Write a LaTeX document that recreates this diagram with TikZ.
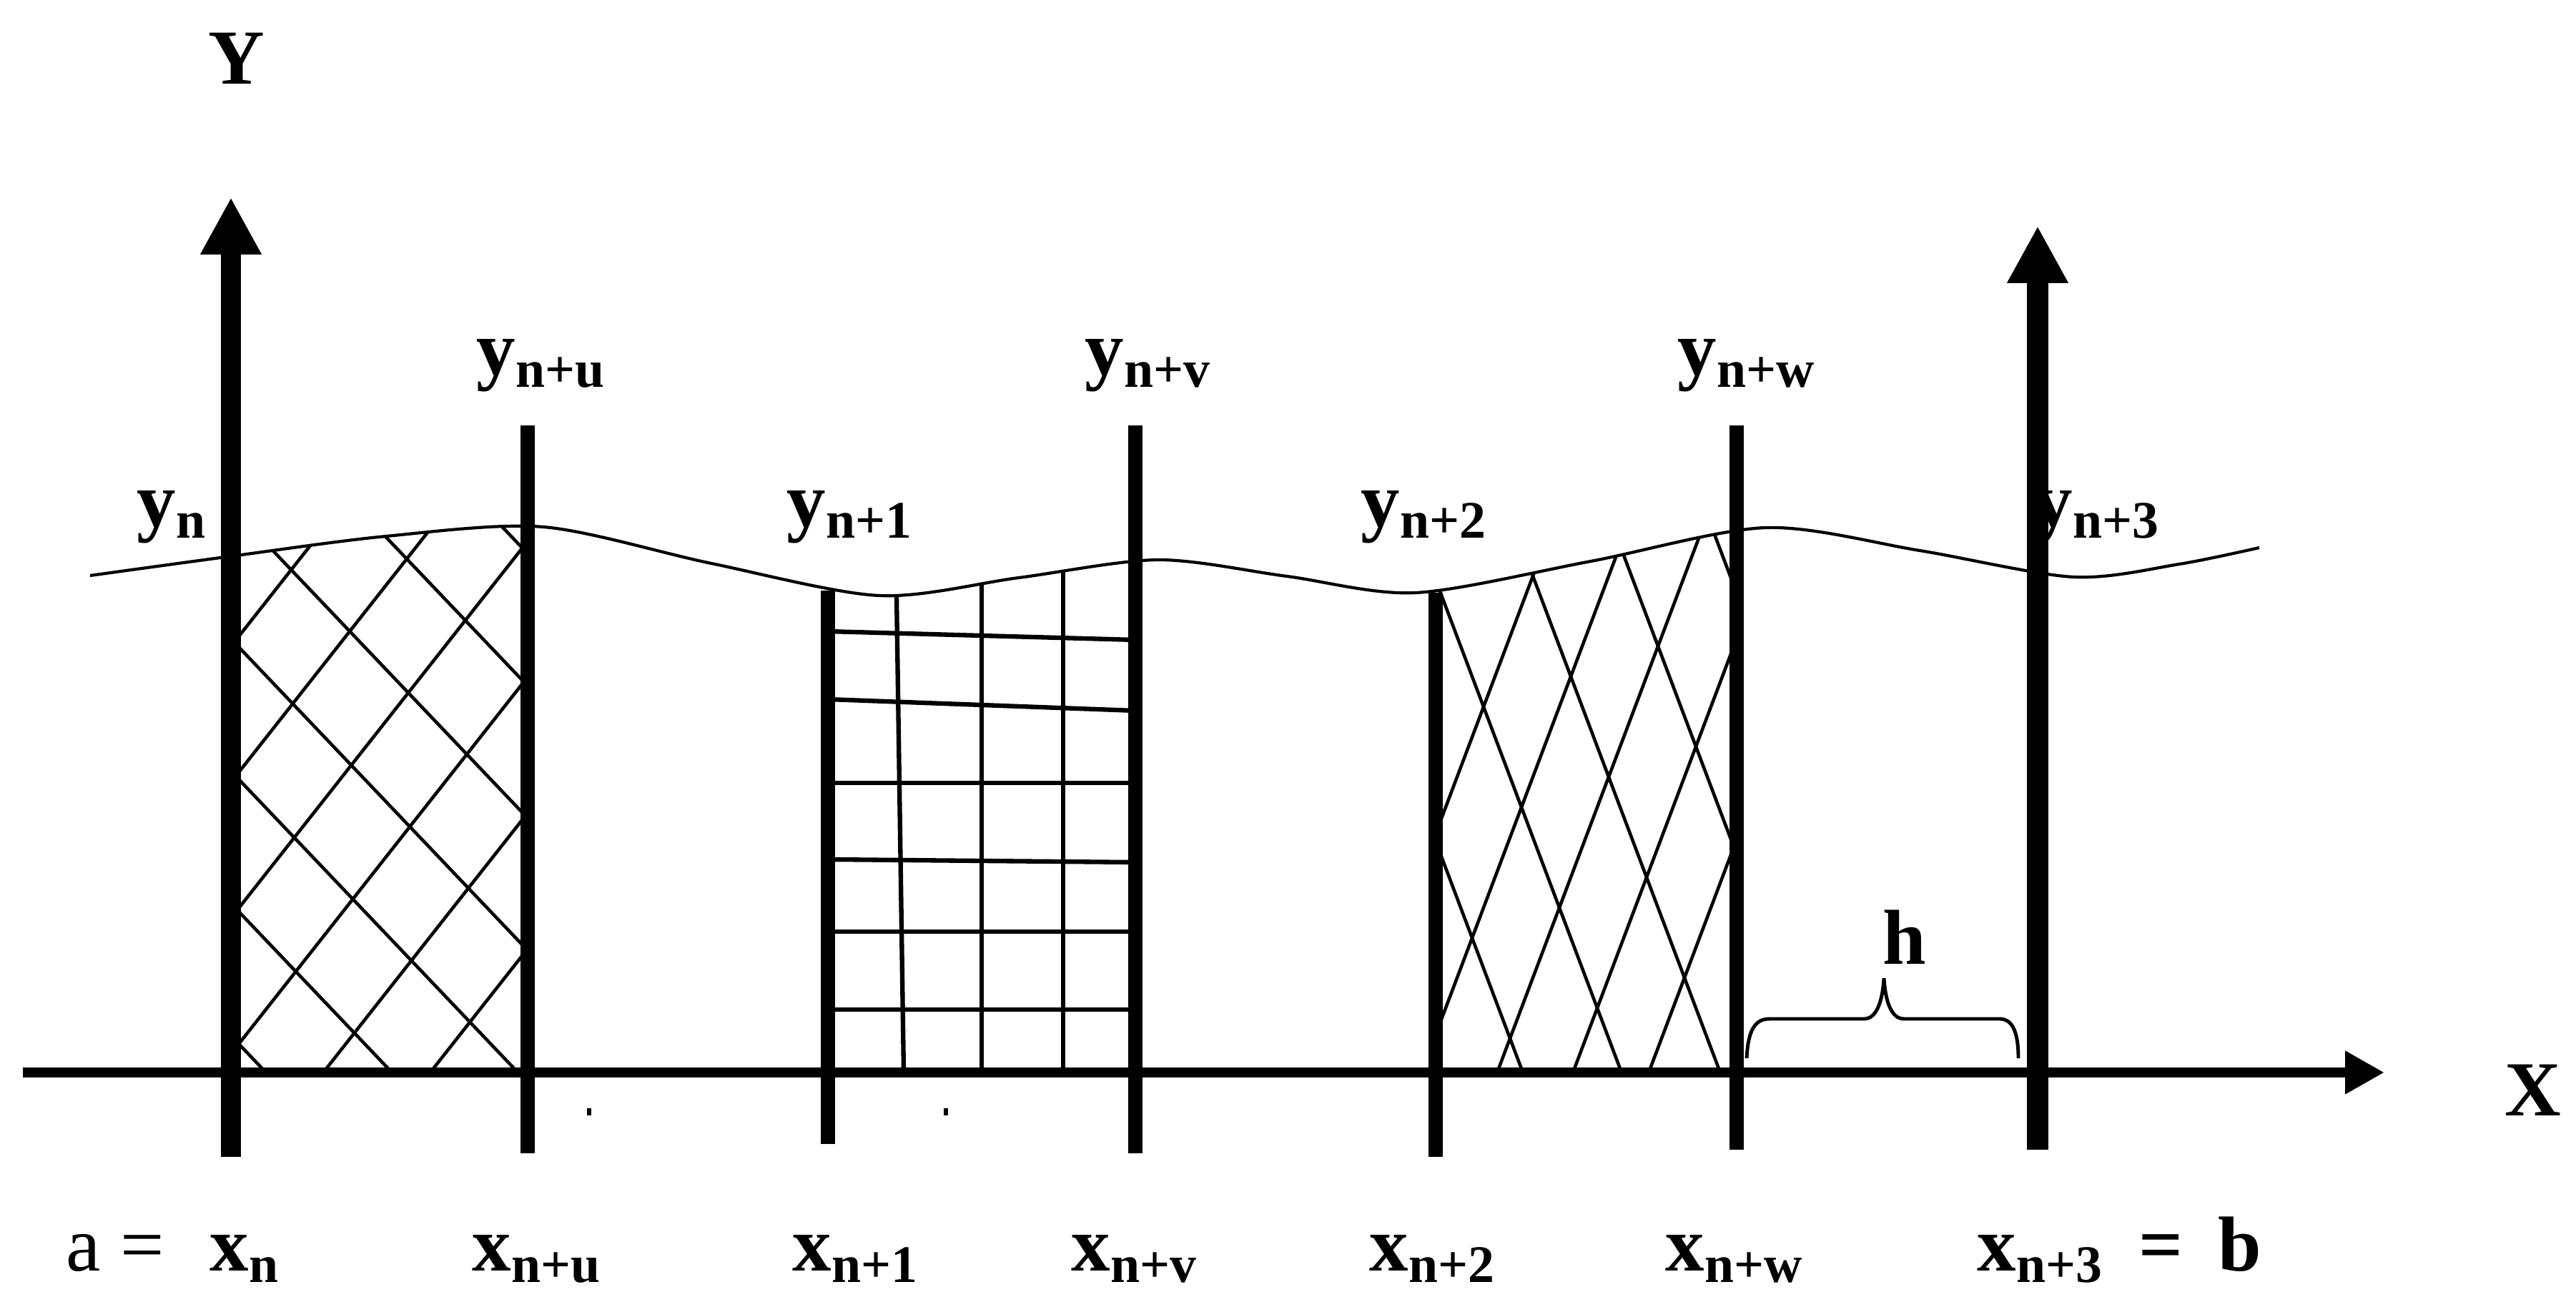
\documentclass[tikz,border=0pt]{standalone}
\usepackage{fontspec}
\setmainfont{Liberation Serif}
\usetikzlibrary{arrows.meta}
\newcommand{\subidx}[1]{\raisebox{-0.15em}{\fontsize{21pt}{21pt}\selectfont #1}}
\newcommand{\wave}{plot[smooth] coordinates {(1.26,8.05) (3.23,7.78) (5.40,7.50) (7.60,7.37) (9.95,7.88) (12.30,8.33) (14.25,8.08) (16.20,7.83) (18.00,8.06) (19.80,8.29) (22.25,7.85) (24.70,7.38) (26.85,7.70) (29.00,8.07) (30.48,7.89) (31.60,7.66)}}

\begin{document}
\begin{tikzpicture}[x=1cm,y=-1cm]
    \tikzstyle{lbl}=[inner sep=0pt, anchor=base west, font=\fontsize{31pt}{37pt}\selectfont\bfseries]
    \tikzstyle{ordinate}=[line width=5.7pt]
    \tikzstyle{yaxis}=[line width=7.7pt, -{Triangle[length=0.8cm,width=0.8cm]}]
    \tikzstyle{xaxis}=[line width=4pt, -{Triangle[length=0.55cm,width=0.57cm]}]
    \tikzstyle{hatch}=[line width=1.3pt]
    \tikzstyle{gridln}=[line width=1.8pt]

    \useasboundingbox (0,0) rectangle (36.03,18.28);

    % filled strips under the curve
    \begin{scope}
      \clip \wave -- (31.60,15.0) -- (1.26,15.0) -- cycle;
      \begin{scope}
        \clip (3.23,5) rectangle (7.38,15.0);
        \foreach \c in {3.385,5.235,7.085,8.935,10.785,12.635,14.485}
          \draw[hatch] (2.73,\c-0.525) -- (8.23,\c+5.25);
        \foreach \d in {9.04,10.94,12.84,14.74,16.64,18.54}
          \draw[hatch] (2.73,\d+0.635) -- (8.23,\d-6.35);
      \end{scope}
      \begin{scope}
        \clip (11.58,5) rectangle (15.88,15.0);
        \draw[gridln] (12.52,7) -- (12.64,15.0);
        \draw[gridln] (13.73,7) -- (13.73,15.0);
        \draw[gridln] (14.87,7) -- (14.87,15.0);
        \draw[gridln] (11.58,8.83) -- (15.88,8.95);
        \draw[gridln] (11.58,9.78) -- (15.88,9.94);
        \draw[gridln] (11.58,10.95) -- (15.88,10.95);
        \draw[gridln] (11.58,12.02) -- (15.88,12.06);
        \draw[gridln] (11.58,13.03) -- (15.88,13.03);
        \draw[gridln] (11.58,14.12) -- (15.88,14.12);
      \end{scope}
      \begin{scope}
        \clip (20.08,5) rectangle (24.29,15.0);
        \foreach \i in {21.30,22.68,24.06,25.44,26.82}
          \draw[hatch] (\i-3,7.05) -- (\i+0.5,16.325);
        \foreach \i in {18.82,19.88,20.94,22.00,23.06}
          \draw[hatch] (\i-0.5,16.325) -- (\i+3,7.05);
      \end{scope}
    \end{scope}

    \draw[line width=1.2pt] \wave;

    % labels
    \node[lbl] (ylab) at (2.91,1.18) {Y};
    \node[lbl] (xlab) at (35.03,15.60) {X};
    \node[lbl] (yn)  at (1.91,7.36)  {y\subidx{n}};
    \node[lbl] (ynu) at (6.66,5.25)  {y\subidx{n+u}};
    \node[lbl] (yn1) at (11.00,7.36) {y\subidx{n+1}};
    \node[lbl] (ynv) at (15.17,5.25) {y\subidx{n+v}};
    \node[lbl] (yn2) at (19.03,7.36) {y\subidx{n+2}};
    \node[lbl] (ynw) at (23.46,5.25) {y\subidx{n+w}};
    \node[lbl] (yn3) at (28.44,7.36) {y\subidx{n+3}};
    \node[lbl] (hlab) at (26.33,13.48) {h};
    \node[lbl] (alab) at (0.92,17.77) {\mdseries a =};
    \node[lbl] (xn)  at (2.93,17.77)  {x\subidx{n}};
    \node[lbl] (xnu) at (6.60,17.77)  {x\subidx{n+u}};
    \node[lbl] (xn1) at (11.08,17.77) {x\subidx{n+1}};
    \node[lbl] (xnv) at (14.98,17.77) {x\subidx{n+v}};
    \node[lbl] (xn2) at (19.15,17.77) {x\subidx{n+2}};
    \node[lbl] (xnw) at (23.29,17.77) {x\subidx{n+w}};
    \node[lbl] (xn3) at (27.65,17.77) {x\subidx{n+3}};
    \node[lbl] (blab) at (29.91,17.77) {=\hspace{0.45em}b};

    % ordinates
    \draw[yaxis] (3.23,16.18) -- (3.23,2.76);
    \draw[ordinate] (7.38,16.13) -- (7.38,5.95);
    \draw[ordinate] (11.58,16.00) -- (11.58,8.26);
    \draw[ordinate] (15.88,16.13) -- (15.88,5.95);
    \draw[ordinate] (20.08,16.18) -- (20.08,8.29);
    \draw[ordinate] (24.29,16.08) -- (24.29,5.95);
    \draw[yaxis, line width=8.5pt] (28.50,16.08) -- (28.50,3.16);

    % abscissa
    \draw[xaxis] (0.32,15.0) -- (33.35,15.0);

    % step h
    \draw[line width=1.4pt] (24.43,14.80) .. controls (24.45,14.40) and (24.55,14.25) .. (24.75,14.25)
      -- (26.07,14.25) .. controls (26.25,14.25) and (26.33,14.0) .. (26.35,13.68)
      .. controls (26.37,14.0) and (26.45,14.25) .. (26.63,14.25)
      -- (27.97,14.25) .. controls (28.13,14.25) and (28.23,14.40) .. (28.23,14.80);

    \fill (8.21,15.50) rectangle (8.27,15.60);
    \fill (13.20,15.50) rectangle (13.26,15.60);
\end{tikzpicture}
\end{document}
